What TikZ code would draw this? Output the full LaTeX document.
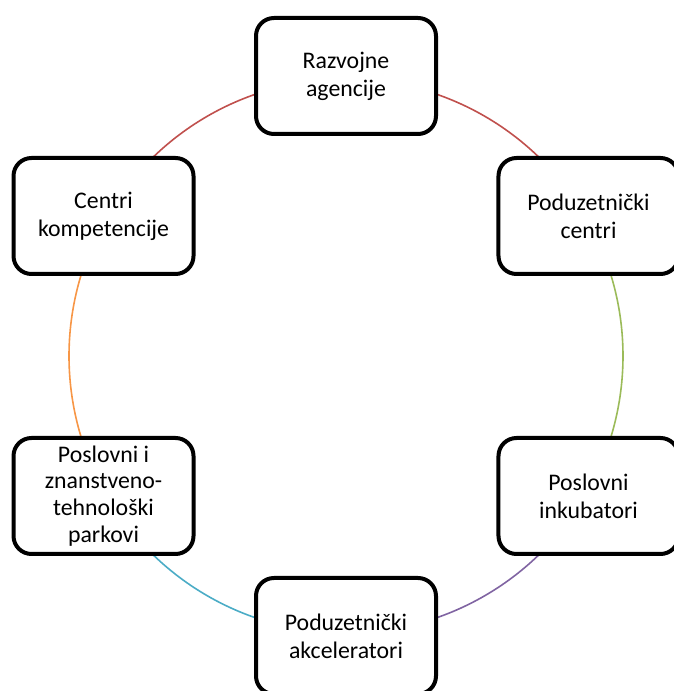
\documentclass[tikz,border=0pt]{standalone}
\usepackage{fontspec}
\setmainfont{Carlito}
\usetikzlibrary{calc,backgrounds}
\definecolor{cRed}{HTML}{C0504D}
\definecolor{cGreen}{HTML}{9BBB59}
\definecolor{cPurple}{HTML}{8064A2}
\definecolor{cAqua}{HTML}{4BACC6}
\definecolor{cOrange}{HTML}{F79646}
\begin{document}
\begin{tikzpicture}[x=1pt,y=1pt,
  cyclebox/.style={draw=black, line width=4pt, rounded corners=18pt, fill=white,
    minimum width=180pt, minimum height=116pt, align=center,
    font=\fontsize{23.8pt}{28pt}\selectfont, inner sep=0pt},
  linkarc/.style={line width=1.6pt}]
\useasboundingbox (0,0) rectangle (674,691);
\coordinate (c) at (346,335);
\node[cyclebox] (n1) at ($(c)+(90:280)$) {Razvojne\\agencije};
\node[cyclebox] (n2) at ($(c)+(30:280)$) {Poduzetnički\\centri};
\node[cyclebox] (n3) at ($(c)+(-30:280)$) {Poslovni\\inkubatori};
\node[cyclebox] (n4) at ($(c)+(-90:280)$) {Poduzetnički\\akceleratori};
\node[cyclebox, font=\fontsize{23.8pt}{26.7pt}\selectfont] (n5) at ($(c)+(-150:280)$) {Poslovni i\\znanstveno-\\tehnološki\\parkovi};
\node[cyclebox] (n6) at ($(c)+(150:280)$) {Centri\\kompetencije};
\foreach \a in {90,30,-30,-90,-150,150}
  \coordinate (p\a) at ($(c)+(\a:277)$);
\begin{scope}[on background layer]
\draw[linkarc, cRed] (p90) arc[start angle=90, end angle=30, radius=277];
\draw[linkarc, cGreen] (p30) arc[start angle=30, end angle=-30, radius=277];
\draw[linkarc, cPurple] (p-30) arc[start angle=-30, end angle=-90, radius=277];
\draw[linkarc, cAqua] (p-90) arc[start angle=-90, end angle=-150, radius=277];
\draw[linkarc, cOrange] (p-150) arc[start angle=210, end angle=150, radius=277];
\draw[linkarc, cRed] (p150) arc[start angle=150, end angle=90, radius=277];
\end{scope}
\end{tikzpicture}
\end{document}
